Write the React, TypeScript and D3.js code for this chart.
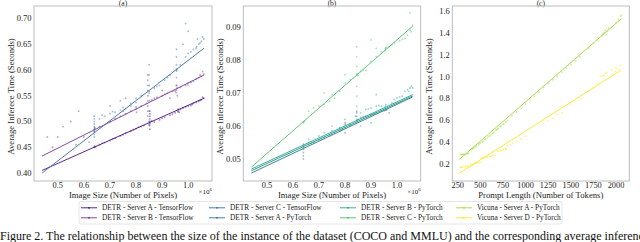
import * as d3 from "d3";

// x values of the DETR panels are in millions of pixels (axis shows ×10^6)
const COLORS = {
  aTF: "#46107a",
  bTF: "#74378f",
  cTF: "#3a6ea5",
  aPy: "#2a788e",
  mPy: "#23918a",
  bPy: "#22a884",
  cPy: "#4ac16d",
  vA: "#a0da39",
  vD: "#fde725",
};

const A_TF_POINTS: [number, number][] = [
  [0.64, 0.45], [0.641, 0.452], [0.645, 0.451], [0.66, 0.455], [0.68, 0.459], [0.7, 0.463],
  [0.72, 0.468], [0.74, 0.472], [0.76, 0.477], [0.78, 0.481], [0.8, 0.486], [0.81, 0.489],
  [0.83, 0.492], [0.85, 0.494], [0.853, 0.496], [0.852, 0.492], [0.853, 0.5], [0.853, 0.505],
  [0.853, 0.51], [0.853, 0.515], [0.853, 0.52], [0.853, 0.485], [0.87, 0.499], [0.89, 0.503],
  [0.91, 0.508], [0.93, 0.512], [0.95, 0.517], [0.96, 0.519], [0.962, 0.521], [0.965, 0.518],
  [0.97, 0.523], [0.98, 0.526], [0.99, 0.528], [1.0, 0.53], [1.01, 0.531], [1.02, 0.535],
  [1.03, 0.537], [1.04, 0.539], [1.05, 0.542], [1.06, 0.545], [1.055, 0.547], [0.86, 0.501],
  [0.67, 0.458], [0.71, 0.466], [0.75, 0.474], [0.79, 0.484], [0.82, 0.49], [0.9, 0.506],
  [0.94, 0.514], [0.961, 0.524], [1.015, 0.533], [1.045, 0.541],
];
const B_TF_POINTS: [number, number][] = [
  [0.64, 0.484], [0.64, 0.48], [0.642, 0.487], [0.66, 0.49], [0.7, 0.5], [0.74, 0.51],
  [0.78, 0.52], [0.8, 0.524], [0.8, 0.528], [0.802, 0.518], [0.82, 0.53], [0.84, 0.535],
  [0.845, 0.51], [0.845, 0.52], [0.845, 0.53], [0.845, 0.54], [0.845, 0.55], [0.845, 0.56],
  [0.845, 0.57], [0.845, 0.58], [0.845, 0.59], [0.86, 0.542], [0.88, 0.547], [0.9, 0.55],
  [0.92, 0.555], [0.94, 0.558], [0.955, 0.561], [0.957, 0.565], [0.953, 0.556], [0.955, 0.57],
  [0.958, 0.55], [0.97, 0.566], [0.99, 0.57], [0.998, 0.571], [1.0, 0.575], [1.02, 0.578],
  [1.03, 0.582], [1.04, 0.585], [1.05, 0.588], [1.06, 0.592], [1.055, 0.597], [0.9, 0.56],
  [0.93, 0.545], [0.75, 0.52], [0.6, 0.47], [0.55, 0.5], [0.5, 0.47], [0.48, 0.45],
  [0.58, 0.52], [0.62, 0.46], [0.72, 0.505], [0.76, 0.515], [0.87, 0.545], [0.91, 0.553],
  [0.95, 0.559], [1.01, 0.576], [1.045, 0.59], [0.52, 0.49], [0.46, 0.47], [0.57, 0.455],
];
const C_TF_POINTS: [number, number][] = [
  [0.64, 0.47], [0.64, 0.475], [0.64, 0.48], [0.64, 0.485], [0.64, 0.49], [0.64, 0.495],
  [0.64, 0.5], [0.64, 0.505], [0.64, 0.51], [0.641, 0.488], [0.66, 0.505], [0.68, 0.51],
  [0.7, 0.515], [0.72, 0.518], [0.74, 0.522], [0.76, 0.525], [0.78, 0.53], [0.8, 0.537],
  [0.8, 0.545], [0.82, 0.55], [0.85, 0.5], [0.85, 0.52], [0.85, 0.54], [0.85, 0.555],
  [0.851, 0.558], [0.85, 0.57], [0.85, 0.59], [0.85, 0.61], [0.87, 0.565], [0.89, 0.57],
  [0.91, 0.58], [0.93, 0.59], [0.955, 0.57], [0.955, 0.585], [0.955, 0.6], [0.955, 0.602],
  [0.956, 0.598], [0.955, 0.61], [0.955, 0.625], [0.955, 0.64], [0.97, 0.61], [0.99, 0.625],
  [1.01, 0.635], [1.03, 0.642], [1.032, 0.645], [1.04, 0.65], [1.05, 0.655], [1.06, 0.66],
  [1.055, 0.664], [0.99, 0.69], [1.0, 0.675], [0.78, 0.535], [0.76, 0.545], [0.7, 0.53],
  [0.74, 0.54], [0.67, 0.512], [0.71, 0.519], [0.75, 0.527], [0.88, 0.568], [0.92, 0.585],
  [1.0, 0.632], [1.02, 0.64], [1.045, 0.652], [1.035, 0.66], [0.98, 0.65],
];

const A_PY_POINTS: [number, number][] = [
  [0.64, 0.05], [0.64, 0.051], [0.64, 0.052], [0.64, 0.053], [0.64, 0.0537], [0.641, 0.054],
  [0.64, 0.0545], [0.66, 0.0545], [0.68, 0.055], [0.7, 0.0558], [0.72, 0.0565], [0.74, 0.057],
  [0.76, 0.058], [0.78, 0.0585], [0.8, 0.058], [0.8, 0.0595], [0.8, 0.0605], [0.801, 0.061],
  [0.82, 0.06], [0.845, 0.0615], [0.845, 0.062], [0.845, 0.063], [0.845, 0.064], [0.845, 0.0645],
  [0.86, 0.0625], [0.88, 0.063], [0.9, 0.0635], [0.92, 0.064], [0.94, 0.0645], [0.955, 0.0648],
  [0.96, 0.065], [0.97, 0.064], [0.67, 0.0548], [0.71, 0.056], [0.75, 0.0575], [0.79, 0.059],
  [0.85, 0.062], [0.87, 0.0628], [0.91, 0.0637], [0.95, 0.0646],
];
const B_PY_POINTS: [number, number][] = [
  [0.66, 0.056], [0.7, 0.057], [0.72, 0.058], [0.75, 0.0585], [0.78, 0.0595], [0.82, 0.0605],
  [0.84, 0.063], [0.86, 0.064], [0.88, 0.065], [0.9, 0.0655], [0.92, 0.066], [0.94, 0.066],
  [0.955, 0.066], [0.957, 0.0665], [0.96, 0.065], [0.98, 0.067], [1.0, 0.0685], [1.02, 0.069],
  [1.03, 0.0705], [1.04, 0.071], [1.05, 0.0715], [1.055, 0.072], [1.06, 0.0715], [0.9, 0.061],
  [0.86, 0.06], [0.8, 0.062], [0.75, 0.06], [0.92, 0.0695], [0.99, 0.068], [1.01, 0.0688],
  [1.045, 0.0705], [0.93, 0.0662], [0.89, 0.0652],
];
const C_PY_POINTS: [number, number][] = [
  [0.64, 0.061], [0.641, 0.0612], [0.645, 0.0615], [0.66, 0.0645], [0.68, 0.0655], [0.7, 0.066],
  [0.72, 0.0665], [0.74, 0.0675], [0.76, 0.0685], [0.78, 0.0705], [0.8, 0.073], [0.82, 0.074],
  [0.845, 0.0755], [0.846, 0.0758], [0.845, 0.066], [0.845, 0.069], [0.845, 0.072], [0.845, 0.078],
  [0.845, 0.081], [0.845, 0.084], [0.86, 0.0765], [0.88, 0.0768], [0.9, 0.0795], [0.92, 0.081],
  [0.94, 0.0825], [0.955, 0.0833], [0.957, 0.0836], [0.953, 0.0828], [0.97, 0.084], [0.99, 0.0852],
  [1.01, 0.0858], [1.03, 0.0865], [1.05, 0.089], [1.055, 0.0885], [1.06, 0.0905], [1.05, 0.0942],
  [0.92, 0.0835], [0.9, 0.086], [0.75, 0.0695], [0.72, 0.07], [0.8, 0.0755], [0.85, 0.0752],
  [0.87, 0.077], [0.96, 0.0838], [0.98, 0.0846], [1.02, 0.0862], [1.04, 0.0875],
];

const V_A_POINTS: [number, number][] = [
  [280, 0.29], [300, 0.29], [320, 0.29], [350, 0.295], [370, 0.3], [400, 0.335], [420, 0.345],
  [450, 0.36], [480, 0.38], [500, 0.395], [530, 0.41], [560, 0.43], [600, 0.455], [630, 0.475],
  [650, 0.49], [680, 0.515], [700, 0.53], [730, 0.55], [760, 0.57], [800, 0.6], [850, 0.64],
  [900, 0.675], [950, 0.71], [1000, 0.75], [1100, 0.82], [1200, 0.9], [1300, 0.97], [1400, 1.04],
  [1500, 1.11], [1600, 1.18], [1700, 1.26], [1750, 1.3], [1800, 1.33], [1850, 1.37], [1870, 1.4],
  [1880, 1.42], [1900, 1.41], [1920, 1.44], [1950, 1.45], [2000, 1.49], [2030, 1.52], [2050, 1.55],
  [2060, 1.56], [1860, 1.39], [1890, 1.38], [290, 0.29], [310, 0.29], [330, 0.291], [360, 0.297],
  [410, 0.34], [430, 0.35], [460, 0.368], [490, 0.388], [520, 0.403], [550, 0.425], [580, 0.443],
  [610, 0.462], [640, 0.482], [670, 0.508], [690, 0.522], [720, 0.543], [750, 0.563], [780, 0.585],
  [1050, 0.785], [1150, 0.86], [1250, 0.935], [1350, 1.0], [1450, 1.075], [1550, 1.145],
];
const V_D_POINTS: [number, number][] = [
  [280, 0.17], [300, 0.175], [330, 0.18], [360, 0.18], [390, 0.19], [400, 0.2], [430, 0.205],
  [460, 0.21], [490, 0.215], [510, 0.255], [540, 0.26], [570, 0.265], [600, 0.27], [630, 0.275],
  [660, 0.28], [690, 0.32], [720, 0.325], [750, 0.33], [780, 0.34], [800, 0.37], [830, 0.38],
  [860, 0.39], [900, 0.41], [950, 0.43], [1000, 0.455], [1200, 0.57], [1250, 0.6], [1300, 0.62],
  [1350, 0.65], [1400, 0.67], [1500, 0.75], [1600, 0.8], [1700, 0.87], [1750, 0.9], [1800, 0.94],
  [1830, 1.0], [1850, 1.005], [1870, 1.01], [1900, 1.04], [1950, 1.06], [1960, 1.02], [2000, 1.08],
  [2030, 1.07], [2050, 1.1], [290, 0.172], [310, 0.176], [340, 0.178], [370, 0.183], [410, 0.2],
  [440, 0.207], [470, 0.212], [500, 0.218], [520, 0.256], [550, 0.262], [580, 0.266], [610, 0.27],
  [640, 0.276], [700, 0.322], [730, 0.327], [760, 0.335], [790, 0.342], [1880, 1.03], [1990, 1.05],
];

// fitted regression lines: [x0, y0, x1, y1]
const FITS_A = [
  { color: COLORS.aTF, line: [0.44, 0.405, 1.06, 0.545] },
  { color: COLORS.bTF, line: [0.44, 0.433, 1.06, 0.59] },
  { color: COLORS.cTF, line: [0.44, 0.4, 1.06, 0.642] },
];
const FITS_B = [
  { color: COLORS.aPy, line: [0.44, 0.0458, 1.06, 0.0688] },
  { color: COLORS.mPy, line: [0.44, 0.0465, 1.06, 0.0691] },
  { color: COLORS.bPy, line: [0.44, 0.047, 1.06, 0.0695] },
  { color: COLORS.cPy, line: [0.44, 0.0476, 1.06, 0.0902] },
];
const FITS_C = [
  { color: COLORS.vA, line: [268, 0.245, 2060, 1.528] },
  { color: COLORS.vD, line: [268, 0.118, 2060, 1.06] },
];

const X_TICKS_DETR = [0.5, 0.6, 0.7, 0.8, 0.9, 1.0];
const Y_TICKS_A = [0.4, 0.45, 0.5, 0.55, 0.6, 0.65, 0.7];
const Y_TICKS_B = [0.05, 0.06, 0.07, 0.08, 0.09];
const X_TICKS_C = [250, 500, 750, 1000, 1250, 1500, 1750, 2000];
const Y_TICKS_C = [0.2, 0.4, 0.6, 0.8, 1.0, 1.2, 1.4, 1.6];

const LEGEND = [
  { label: "DETR - Server A - TensorFlow", color: COLORS.aTF },
  { label: "DETR - Server B - TensorFlow", color: COLORS.bTF },
  { label: "DETR - Server C - TensorFlow", color: COLORS.cTF },
  { label: "DETR - Server A - PyTorch", color: COLORS.aPy },
  { label: "DETR - Server B - PyTorch", color: COLORS.bPy },
  { label: "DETR - Server C - PyTorch", color: COLORS.cPy },
  { label: "Vicuna - Server A - PyTorch", color: COLORS.vA },
  { label: "Vicuna - Server D - PyTorch", color: COLORS.vD },
];

const FONT = "'Liberation Serif', 'DejaVu Serif', serif";
const TOP = 6;
const BOTTOM = 181;

const panels = [
  {
    title: "(a)", left: 34, right: 212, xDomain: [0.409, 1.091], yDomain: [0.3845, 0.724],
    xTicks: X_TICKS_DETR, yTicks: Y_TICKS_A, xFmt: d3.format(".1f"), yFmt: d3.format(".2f"),
    xLabel: "Image Size (Number of Pixels)", offset: true,
    series: [
      { color: COLORS.aTF, pts: A_TF_POINTS },
      { color: COLORS.bTF, pts: B_TF_POINTS },
      { color: COLORS.cTF, pts: C_TF_POINTS },
    ],
    fits: FITS_A,
  },
  {
    title: "(b)", left: 243.3, right: 420.7, xDomain: [0.409, 1.091], yDomain: [0.0434, 0.0963],
    xTicks: X_TICKS_DETR, yTicks: Y_TICKS_B, xFmt: d3.format(".1f"), yFmt: d3.format(".2f"),
    xLabel: "Image Size (Number of Pixels)", offset: true,
    series: [
      { color: COLORS.aPy, pts: A_PY_POINTS },
      { color: COLORS.bPy, pts: B_PY_POINTS },
      { color: COLORS.cPy, pts: C_PY_POINTS },
    ],
    fits: FITS_B,
  },
  {
    title: "(c)", left: 452.3, right: 629.3, xDomain: [190, 2147], yDomain: [0.0475, 1.643],
    xTicks: X_TICKS_C, yTicks: Y_TICKS_C, xFmt: d3.format("d"), yFmt: d3.format(".1f"),
    xLabel: "Prompt Length (Number of Tokens)", offset: false,
    series: [
      { color: COLORS.vA, pts: V_A_POINTS },
      { color: COLORS.vD, pts: V_D_POINTS },
    ],
    fits: FITS_C,
  },
];

function Panel({ p }: { p: (typeof panels)[number] }) {
  const x = d3.scaleLinear().domain(p.xDomain).range([p.left, p.right]);
  const y = d3.scaleLinear().domain(p.yDomain).range([BOTTOM, TOP]);
  const cx = (p.left + p.right) / 2;
  const cy = (TOP + BOTTOM) / 2;
  return (
    <g style={{ fontFamily: FONT }} fill="#222">
      <text x={cx} y={5.5} fontSize={7.5} textAnchor="middle">{p.title}</text>
      <defs>
        <clipPath id={"clip" + p.title}>
          <rect x={p.left} y={TOP} width={p.right - p.left} height={BOTTOM - TOP} />
        </clipPath>
      </defs>
      <g clipPath={`url(#clip${p.title})`}>
        {p.series.map((s, i) =>
          s.pts.map((d, j) => (
            <circle key={i + "-" + j} cx={x(d[0])} cy={y(d[1])} r={0.95} fill={s.color} opacity={0.45} />
          ))
        )}
        {p.fits.map((f, i) => (
          <line key={i} x1={x(f.line[0])} y1={y(f.line[1])} x2={x(f.line[2])} y2={y(f.line[3])}
            stroke={f.color} strokeWidth={0.9} />
        ))}
      </g>
      <rect x={p.left} y={TOP} width={p.right - p.left} height={BOTTOM - TOP}
        fill="none" stroke="#bdbdbd" strokeWidth={1} />
      {p.yTicks.map((t) => (
        <text key={t} x={p.left - 2.5} y={y(t) + 3} fontSize={8.5} textAnchor="end">{p.yFmt(t)}</text>
      ))}
      {p.xTicks.map((t) => (
        <text key={t} x={x(t)} y={188} fontSize={8.3} textAnchor="middle">{p.xFmt(t)}</text>
      ))}
      <text x={cx} y={197.5} fontSize={8.7} textAnchor="middle">{p.xLabel}</text>
      {p.offset && (
        <text x={p.right} y={194} fontSize={7} textAnchor="end">
          ×10<tspan fontSize={5} dy={-3}>6</tspan>
        </text>
      )}
      <text transform={`translate(${p.left - 20},${cy + 3}) rotate(-90)`} fontSize={8.7} textAnchor="middle">
        Average Inferece Time (Seconds)
      </text>
    </g>
  );
}

const LEGEND_COLS = [81, 209, 340, 456];

export default function App() {
  return (
    <svg width={640} height={242} style={{ position: "absolute", left: 0, top: 0, background: "#fff" }}>
      {panels.map((p) => <Panel key={p.title} p={p} />)}
      <g style={{ fontFamily: FONT }}>
        <rect x={79} y={201.5} width={483} height={22.5} rx={2} fill="#fff" stroke="#e0e0e0" strokeWidth={0.8} />
        {LEGEND.map((l, i) => {
          const col = Math.floor(i / 2);
          const row = i % 2;
          const lx = LEGEND_COLS[col];
          const ly = 207.8 + row * 10;
          return (
            <g key={l.label}>
              <line x1={lx} x2={lx + 16} y1={ly} y2={ly} stroke={l.color} strokeWidth={0.9} />
              <circle cx={lx + 8} cy={ly} r={0.9} fill={l.color} />
              <text x={lx + 21} y={ly + 2.5} fontSize={7.3} fill="#222">{l.label}</text>
            </g>
          );
        })}
      </g>
      <text x={0} y={240} style={{ fontFamily: FONT }} fontSize={12} fill="#111">
        Figure 2. The relationship between the size of the instance of the dataset (COCO and MMLU) and the corresponding average inference
      </text>
    </svg>
  );
}
